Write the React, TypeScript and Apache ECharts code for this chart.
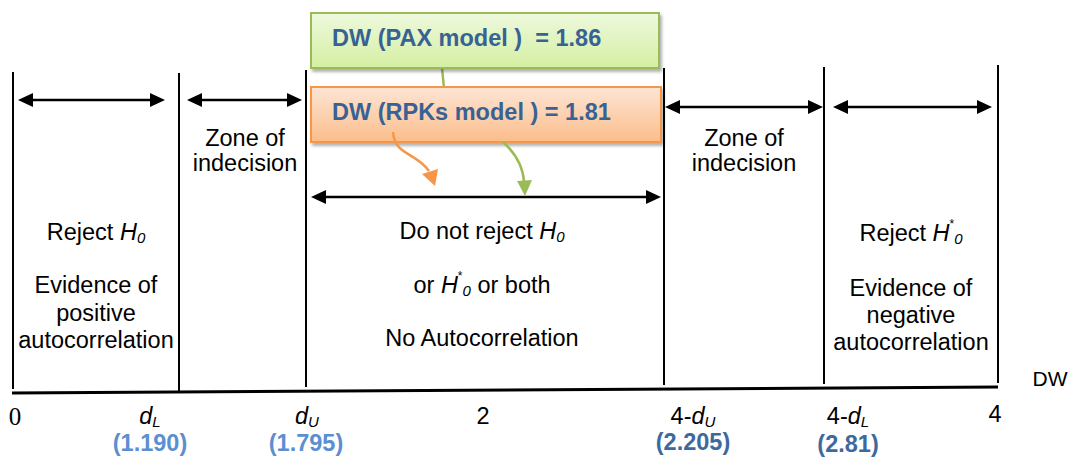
import React, { useEffect, useRef } from 'react';
import * as echarts from 'echarts';

// ---------- data ----------
const boundaryLabels = ['0', '{i|d}{sub|L}', '{i|d}{sub|U}', '2', '4-{i|d}{sub|U}', '4-{i|d}{sub|L}', '4'];
const criticalValues = ['1.190', '1.795', '2.205', '2.81'];
const modelNames = ['PAX model )  ', 'RPKs model ) '];
const modelDW = [1.86, 1.81];
const axisTitle = 'DW';
const leftZone = ['Reject {i|H}{sub|0}', 'Evidence of', 'positive', 'autocorrelation'];
const middleZone = ['Do not reject {i|H}{sub|0}', 'or {i|H}{sup|*}{sub|0} or both', 'No Autocorrelation'];
const rightZone = ['Reject {i|H}{sup|*}{sub|0}', 'Evidence of', 'negative', 'autocorrelation'];
const indecisionZone = ['Zone of', 'indecision'];

// ---------- layout ----------
const FONT = "'Liberation Sans', Arial, Helvetica, sans-serif";
const SERIF = "'Liberation Serif', 'Times New Roman', 'DejaVu Serif', serif";
const FS = 23.5;
const LX = [13, 179, 306, 483, 664, 824, 998];
const lineTop = [72, 73, 70, 0, 68, 67, 65];
const lineBottom = [389, 391, 387, 0, 385, 384, 383];

function rich(color: string, weight = 'normal') {
  const base = { fontFamily: FONT, fill: color, fontWeight: weight, verticalAlign: 'middle', lineHeight: 30 };
  return {
    i: { ...base, fontSize: FS, fontStyle: 'italic' },
    sub: { ...base, fontSize: 15, fontStyle: 'italic', padding: [11, 0, 0, 0] },
    sup: { ...base, fontSize: 12, padding: [0, 0, 18, 0] },
  };
}

function txt(x: number, y: number, text: string, o: any = {}) {
  return {
    type: 'text',
    x,
    y,
    z: 10,
    style: {
      text,
      fill: o.fill || '#000',
      fontSize: o.fontSize || FS,
      fontFamily: o.fontFamily || FONT,
      fontWeight: o.fontWeight || 'normal',
      align: o.align || 'center',
      verticalAlign: 'middle',
      rich: rich(o.fill || '#000', o.fontWeight || 'normal'),
    },
  };
}

function dblArrow(x1: number, x2: number, y: number) {
  const L = 15, W = 7;
  return [
    { type: 'line', shape: { x1: x1 + L - 2, y1: y, x2: x2 - L + 2, y2: y }, style: { stroke: '#000', lineWidth: 2.5 } },
    { type: 'polygon', shape: { points: [[x1, y], [x1 + L, y - W], [x1 + L, y + W]] }, style: { fill: '#000' } },
    { type: 'polygon', shape: { points: [[x2, y], [x2 - L, y - W], [x2 - L, y + W]] }, style: { fill: '#000' } },
  ];
}

function block(x: number, lines: string[], ys: number[]) {
  return lines.map((l, k) => txt(x, ys[k], l));
}

function buildOption() {
  const els: any[] = [];
  // vertical boundary lines
  LX.forEach((x, k) => {
    if (!lineTop[k]) return;
    els.push({ type: 'line', shape: { x1: x, y1: lineTop[k], x2: x, y2: lineBottom[k] }, style: { stroke: '#000', lineWidth: 2 } });
  });
  // base axis
  els.push({ type: 'line', shape: { x1: 12, y1: 393, x2: 998, y2: 387 }, style: { stroke: '#000', lineWidth: 3 } });

  // arrows
  els.push(...dblArrow(18, 165, 100));
  els.push(...dblArrow(187, 302, 100));
  els.push(...dblArrow(665, 823, 107));
  els.push(...dblArrow(833, 992, 107));
  els.push(...dblArrow(311, 661, 197));

  // zone texts
  els.push(...block(245, indecisionZone, [138, 163]));
  els.push(...block(744, indecisionZone, [138, 163]));
  els.push(...block(96, leftZone, [232, 285, 313, 340]));
  els.push(...block(482, middleZone, [231, 285, 338]));
  els.push(...block(911, rightZone, [233, 288, 315, 342]));

  // bottom labels
  const labelX = [15, 150, 307, 483, 693, 848, 995];
  boundaryLabels.forEach((l, k) => {
    const o = k === 0 ? { fontFamily: SERIF, fontSize: 25 } : {};
    els.push(txt(labelX[k], k === 6 ? 414 : 416, l, o));
  });
  const valX = [150, 306, 693, 848];
  const valY = [443, 443, 442, 444];
  const valC = ['#5b8fd0', '#5b8fd0', '#3d6a9e', '#3d6a9e'];
  criticalValues.forEach((v, k) => {
    els.push(txt(valX[k], valY[k], '(' + v + ')', { fill: valC[k], fontWeight: 'bold' }));
  });
  els.push(txt(1050, 378, axisTitle, { fontSize: 21 }));

  // green connector (behind orange box)
  els.push({ type: 'line', shape: { x1: 442, y1: 68, x2: 444, y2: 88 }, style: { stroke: '#9BBB59', lineWidth: 2.5 } });

  // boxes
  const boxY = [13, 87];
  const boxW = [348, 350];
  const fills = [
    ['#eef9de', '#d4efa2'],
    ['#fde5d4', '#fbbd8b'],
  ];
  const strokes = ['#9BBB59', '#F79646'];
  modelNames.forEach((m, k) => {
    els.push({
      type: 'rect',
      shape: { x: 311, y: boxY[k], width: boxW[k], height: 55 },
      style: {
        fill: { type: 'linear', x: 0, y: 0, x2: 0, y2: 1, colorStops: [{ offset: 0, color: fills[k][0] }, { offset: 1, color: fills[k][1] }] },
        stroke: strokes[k],
        lineWidth: 2,
        shadowBlur: 3,
        shadowOffsetX: 2,
        shadowOffsetY: 3,
        shadowColor: 'rgba(0,0,0,0.3)',
      },
      z: 5,
    });
    els.push({ ...txt(332, boxY[k] + 25, 'DW (' + m + '= ' + modelDW[k].toFixed(2), { fill: '#386294', fontWeight: 'bold', align: 'left' }), z: 11 });
  });

  // green curve from orange box to middle arrow
  els.push({
    type: 'bezierCurve',
    shape: { x1: 503, y1: 142, cpx1: 514, cpy1: 152, cpx2: 523, cpy2: 166, x2: 524, y2: 182 },
    style: { stroke: '#9BBB59', lineWidth: 2.5, fill: 'none' },
    z: 12,
  });
  els.push({ type: 'polygon', shape: { points: [[517, 181], [532, 180], [525, 196]] }, style: { fill: '#9BBB59' }, z: 12 });

  // orange curve
  els.push({
    type: 'bezierCurve',
    shape: { x1: 393, y1: 132, cpx1: 395, cpy1: 156, cpx2: 416, cpy2: 152, x2: 429, y2: 171 },
    style: { stroke: '#F79646', lineWidth: 2.5, fill: 'none' },
    z: 12,
  });
  els.push({ type: 'polygon', shape: { points: [[422, 174], [438, 169], [435, 186]] }, style: { fill: '#F79646' }, z: 12 });

  return { animation: false, graphic: { elements: els } };
}

export default function App() {
  const ref = useRef<HTMLDivElement>(null);
  useEffect(() => {
    if (!ref.current) return;
    const chart = echarts.init(ref.current, null, { renderer: 'svg' });
    chart.setOption(buildOption() as any);
    return () => chart.dispose();
  }, []);
  return <div ref={ref} style={{ position: 'absolute', left: 0, top: 0, width: 1075, height: 457, background: '#fff' }} />;
}
